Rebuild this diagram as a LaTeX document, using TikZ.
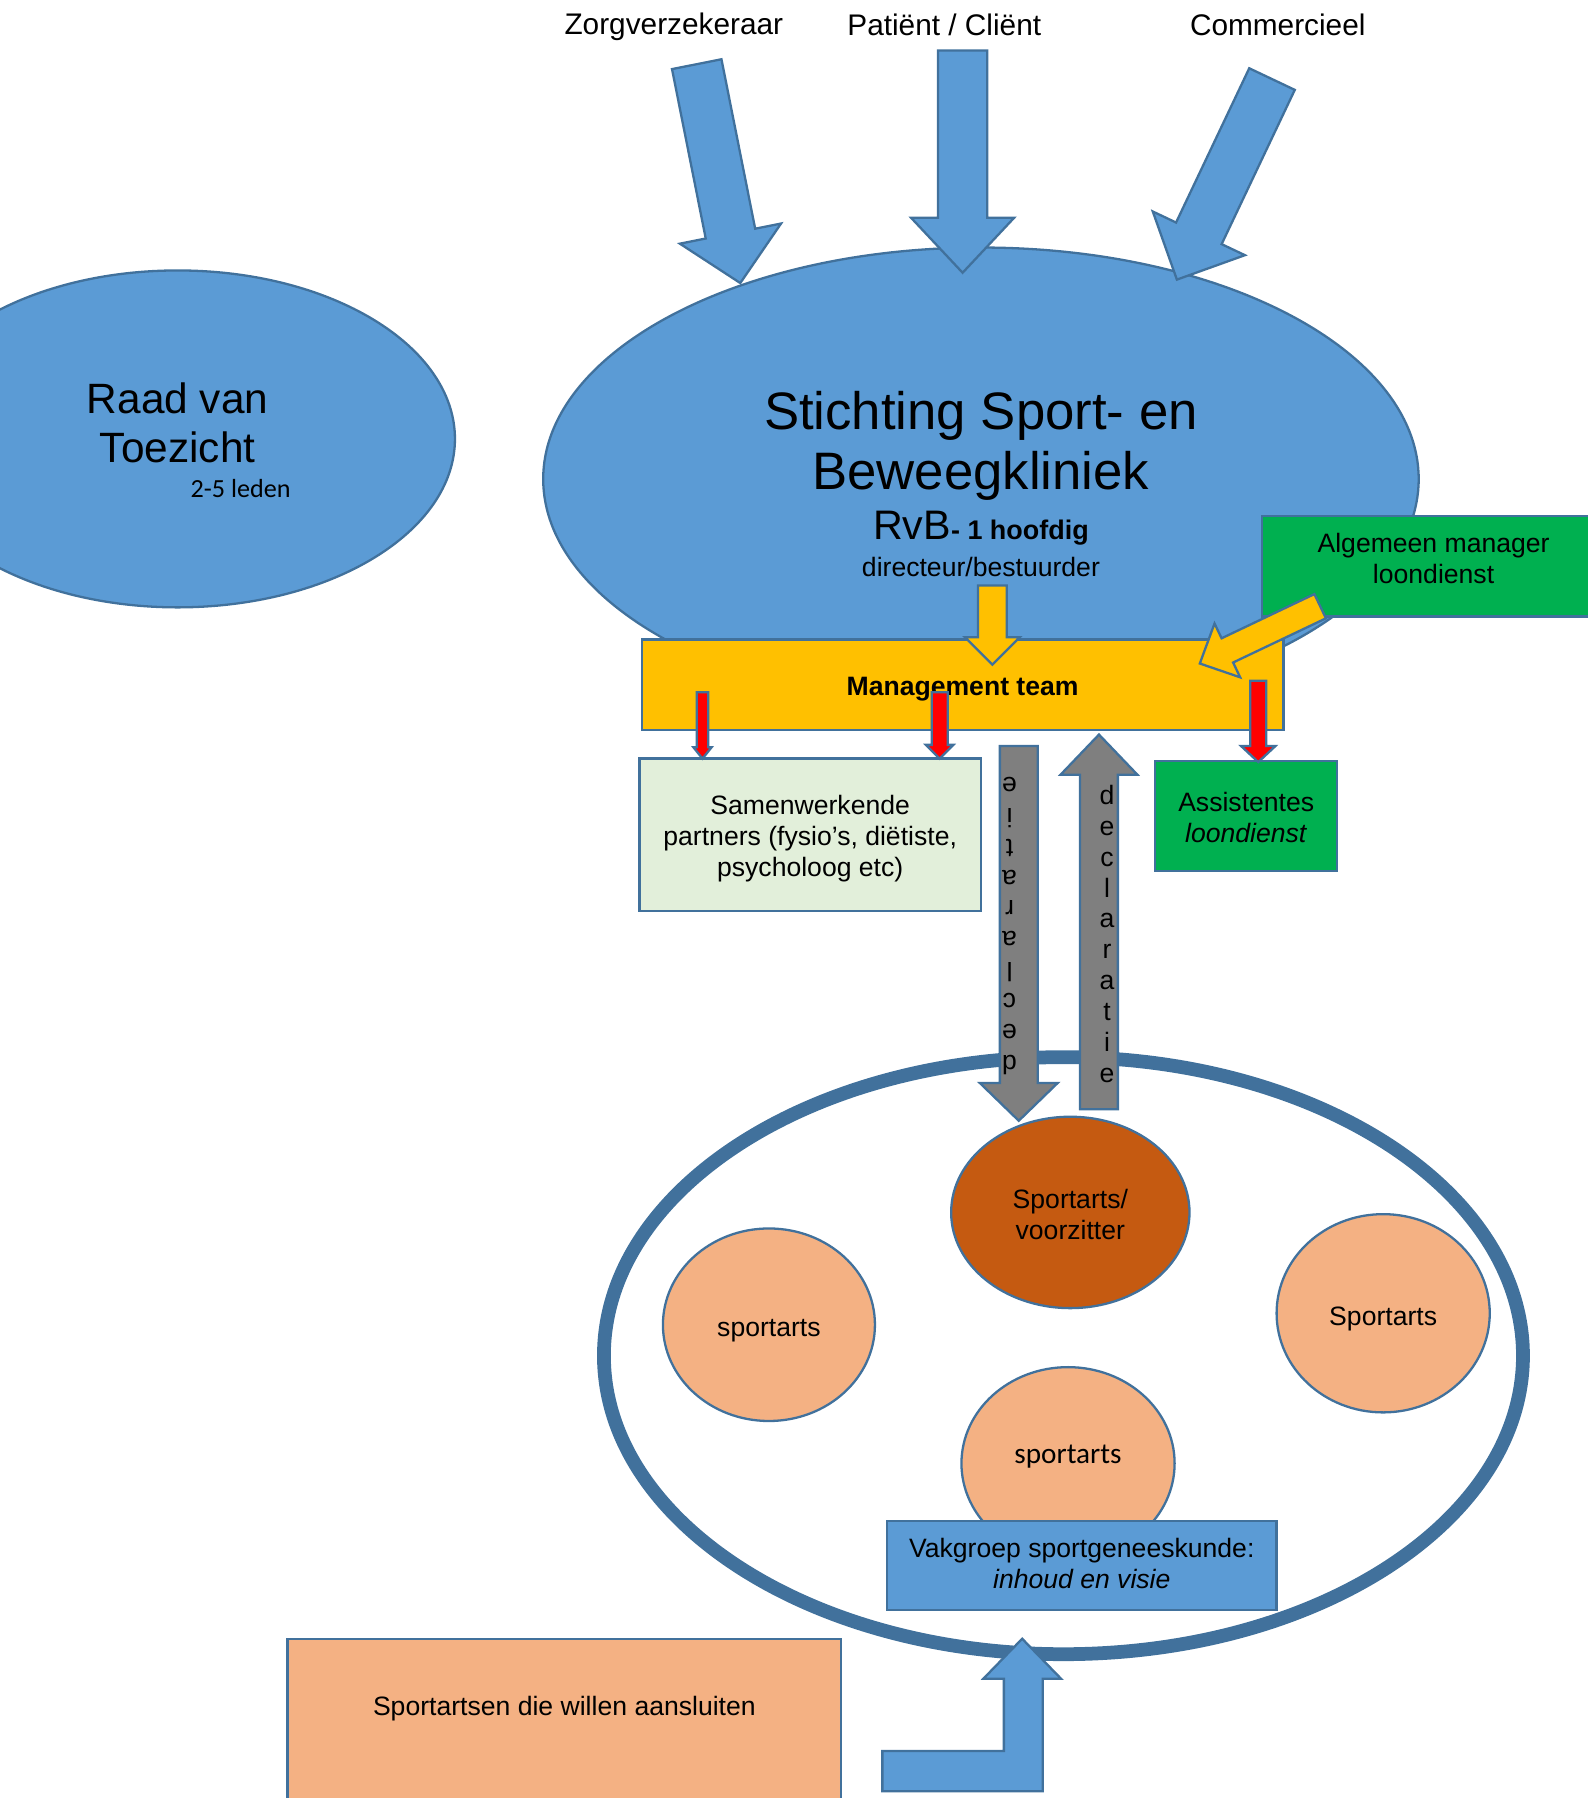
\documentclass[tikz,border=0pt]{standalone}
\usepackage{fontspec}
\setmainfont{Liberation Sans}
\newfontfamily\calibri{Carlito}
\usetikzlibrary{shapes.geometric,calc}

\definecolor{officeblue}{HTML}{5B9BD5}
\definecolor{edgeblue}{HTML}{41719C}
\definecolor{mtgold}{HTML}{FFC000}
\definecolor{mgrgreen}{HTML}{00B050}
\definecolor{partnergreen}{HTML}{E2EFDA}
\definecolor{artspeach}{HTML}{F4B183}
\definecolor{chairbrown}{HTML}{C55A11}
\definecolor{declgray}{HTML}{7F7F7F}

% block arrow: style, tail, tip, half shaft, half head, head length
\newcommand\fatarrow[6]{%
  \coordinate (fa-base) at ($(#3)!#6pt!(#2)$);
  \draw[fatarrow,#1] ($(#2)!#4pt!90:(#3)$) -- ($(fa-base)!#4pt!90:(#3)$)
    -- ($(fa-base)!#5pt!90:(#3)$) -- (#3)
    -- ($(fa-base)!#5pt!-90:(#3)$) -- ($(fa-base)!#4pt!-90:(#3)$)
    -- ($(#2)!#4pt!-90:(#3)$) -- cycle;
}

\tikzset{
  every node/.style={font=\fontsize{23.2}{27}\selectfont, text=black},
  orgbox/.style={draw=edgeblue, line width=2pt, rectangle, inner sep=0pt, align=center},
  blob/.style={draw=edgeblue, line width=2pt, ellipse, inner sep=0pt, align=center},
  fatarrow/.style={draw=edgeblue, line width=2pt, line join=miter},
  toplabel/.style={font=\fontsize{26}{30}\selectfont},
}

\begin{document}
\begin{tikzpicture}[x=1pt, y=-1pt]
  \useasboundingbox (0,0) rectangle (1385,1569);

  % raad van toezicht
  \node[blob, fill=officeblue, minimum width=484, minimum height=294] (rvt) at (155,383) {};
  \node[align=center, font=\fontsize{37}{43}\selectfont] (rvttitle) at (155,369) {Raad van\\Toezicht};
  \node[font=\calibri\fontsize{22.8}{27}\selectfont] (rvtleden) at (210,426) {2-5 leden};

  % stichting
  \node[blob, fill=officeblue, minimum width=764, minimum height=404] (ssbk) at (856,418) {};

  % stakeholders on top
  \node[toplabel] (zv) at (588,23) {Zorgverzekeraar};
  \node[toplabel] (pc) at (824,22) {Patiënt / Cliënt};
  \node[toplabel] (com) at (1115,22) {Commercieel};
  \coordinate (zv-tail) at (608,56);
  \coordinate (zv-tip) at (646,247);
  \coordinate (pc-tail) at (840,44);
  \coordinate (pc-tip) at (840,238);
  \coordinate (com-tail) at (1110,69);
  \coordinate (com-tip) at (1027,244);
  \fatarrow{fill=officeblue}{zv-tail}{zv-tip}{22}{45}{44}
  \fatarrow{fill=officeblue}{pc-tail}{pc-tip}{21.5}{45}{48}
  \fatarrow{fill=officeblue}{com-tail}{com-tip}{22}{44.5}{44.7}

  \node[align=center, font=\fontsize{46}{52}\selectfont] (ssbktitle) at (856,389) {Stichting Sport- en\\Beweegkliniek};
  \node (rvb) at (856,461) {\fontsize{36}{40}\selectfont RvB\fontsize{23.5}{27}\selectfont\bfseries- 1 hoofdig};
  \node (dirbest) at (856,495) {directeur/bestuurder};

  % management
  \node[orgbox, fill=mtgold, minimum width=560, minimum height=79] (mteam) at (840,597.5) {};
  \node[font=\fontsize{23.2}{27}\selectfont\bfseries] (mteamtxt) at ($(mteam)+(0,4)$) {Management team};
  \node[orgbox, fill=mgrgreen, minimum width=300, minimum height=88] (algmgr) at (1251,494) {};
  \node[align=center] (algmgrtxt) at ($(algmgr)+(0,-7)$) {Algemeen manager\\loondienst};
  \coordinate (rvb-out) at (866,511);
  \coordinate (mt-in) at (866,580);
  \coordinate (algmgr-out) at (1152,529);
  \coordinate (mt-corner) at (1047,579);
  \fatarrow{fill=mtgold}{rvb-out}{mt-in}{12.5}{24}{24}
  \fatarrow{fill=mtgold}{algmgr-out}{mt-corner}{11.7}{26}{26.6}

  % below management
  \node[orgbox, fill=partnergreen, minimum width=298, minimum height=133] (partners) at (707,728.5) {};
  \node[align=center] (partnerstxt) at ($(partners)+(0,3)$) {Samenwerkende\\partners (fysio’s, diëtiste,\\psycholoog etc)};
  \node[orgbox, fill=mgrgreen, minimum width=159, minimum height=96] (assist) at (1087.5,712) {};
  \node[align=center] (assisttxt) at ($(assist)+(0,1)$) {Assistentes\\\textit{loondienst}};
  \coordinate (red1-a) at (613,604);
  \coordinate (red1-b) at (613,662);
  \coordinate (red2-a) at (820,604);
  \coordinate (red2-b) at (820,662);
  \coordinate (red3-a) at (1098,594);
  \coordinate (red3-b) at (1098,665);
  \fatarrow{fill=red}{red1-a}{red1-b}{5}{8}{10}
  \fatarrow{fill=red}{red2-a}{red2-b}{7}{12}{12}
  \fatarrow{fill=red}{red3-a}{red3-b}{7}{15}{14}

  % vakgroep
  \node[draw=edgeblue, line width=12pt, ellipse, minimum width=802, minimum height=521] (ring) at (928,1183) {};
  \node[blob, fill=chairbrown, minimum width=208, minimum height=167] (chair) at (934,1058) {};
  \node[align=center] (chairtxt) at ($(chair)+(0,2)$) {Sportarts/\\voorzitter};
  \node[blob, fill=artspeach, minimum width=185, minimum height=168] (artsl) at (671,1156) {};
  \node (artsltxt) at ($(artsl)+(0,5)$) {sportarts};
  \node[blob, fill=artspeach, minimum width=186, minimum height=173] (artsr) at (1207,1146) {};
  \node (artsrtxt) at ($(artsr)+(0,5)$) {Sportarts};
  \node[blob, fill=artspeach, minimum width=186, minimum height=168] (artsb) at (932,1277) {};
  \node[font=\calibri\fontsize{25.5}{30}\selectfont] (artsbtxt) at ($(artsb)+(0,-6)$) {sportarts};

  % declaratie flow
  \coordinate (decl-top) at (889,651);
  \coordinate (decl-bot) at (889,978);
  \coordinate (back-bot) at (959,968);
  \coordinate (back-top) at (959,641);
  \fatarrow{fill=declgray}{decl-top}{decl-bot}{16.5}{34}{33}
  \fatarrow{fill=declgray}{back-bot}{back-top}{16.5}{33.5}{35}
  \node[rotate=180, align=center] (decldown) at (881,808) {d\\e\\c\\l\\a\\r\\a\\t\\i\\e};
  \node[align=center] (declup) at (966,815) {d\\e\\c\\l\\a\\r\\a\\t\\i\\e};

  \node[orgbox, fill=officeblue, minimum width=340, minimum height=78] (vakgroep) at (944,1366) {};
  \node[align=center] (vakgroeptxt) at ($(vakgroep)+(0,-1.5)$) {Vakgroep sportgeneeskunde:\\\textit{inhoud en visie}};

  % aansluiten
  \node[orgbox, fill=artspeach, minimum width=483, minimum height=260, anchor=north] (aansluit) at (492.5,1429) {};
  \node (aansluittxt) at ($(aansluit.north)+(0,62)$) {Sportartsen die willen aansluiten};
  \draw[fatarrow, fill=officeblue] (770,1528) -- (876,1528) -- (876,1465) -- (858,1465)
    -- (892,1430) -- (926,1465) -- (910,1465) -- (910,1563) -- (770,1563) -- cycle;
\end{tikzpicture}
\end{document}
